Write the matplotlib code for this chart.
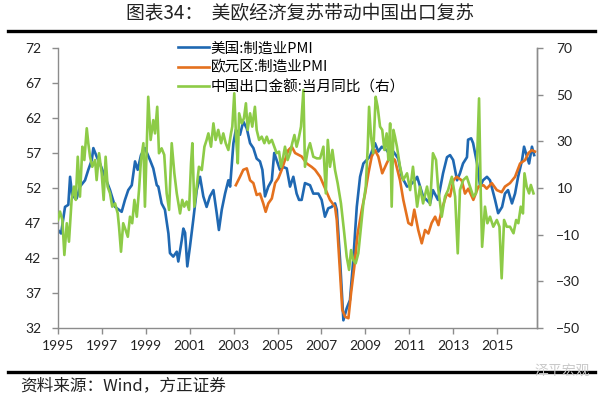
import matplotlib
matplotlib.use("Agg")
import matplotlib.pyplot as plt
from matplotlib.lines import Line2D

plt.rcParams['font.family'] = ['Noto Sans CJK SC', 'DejaVu Sans']

# ---------------- data (time in decimal years as placed on the chart) ----------------
us_t = [1995.00, 1995.14, 1995.32, 1995.47, 1995.55, 1995.65, 1995.85, 1996.00, 1996.23, 1996.38,
        1996.54, 1996.61, 1996.76, 1996.91, 1997.14, 1997.37, 1997.60, 1997.90, 1998.05, 1998.20,
        1998.36, 1998.51, 1998.63, 1998.78, 1998.96, 1999.19, 1999.34, 1999.50, 1999.57, 1999.72,
        1999.87, 2000.03, 2000.10, 2000.25, 2000.41, 2000.48, 2000.64, 2000.71, 2000.79, 2000.89,
        2001.01, 2001.16, 2001.32, 2001.47, 2001.62, 2001.77, 2001.92, 2002.08, 2002.23, 2002.33,
        2002.46, 2002.61, 2002.76, 2002.84, 2002.99, 2003.10, 2003.29, 2003.44, 2003.60, 2003.75,
        2003.90, 2004.05, 2004.20, 2004.31, 2004.43, 2004.58, 2004.74, 2004.85, 2004.96, 2005.11,
        2005.26, 2005.42, 2005.57, 2005.72, 2005.87, 2005.98, 2006.10, 2006.25, 2006.48, 2006.63,
        2006.86, 2007.01, 2007.16, 2007.31, 2007.47, 2007.62, 2007.70, 2007.85, 2008.00, 2008.15,
        2008.30, 2008.45, 2008.61, 2008.76, 2008.91, 2009.06, 2009.21, 2009.44, 2009.59, 2009.75,
        2009.97, 2010.13, 2010.28, 2010.50, 2010.66, 2010.90, 2011.04, 2011.26, 2011.36, 2011.63,
        2011.95, 2012.08, 2012.31, 2012.54, 2012.72, 2012.86, 2013.00, 2013.18, 2013.31, 2013.45,
        2013.63, 2013.68, 2013.82, 2013.91, 2014.09, 2014.23, 2014.36, 2014.54, 2014.68, 2014.91,
        2015.05, 2015.23, 2015.36, 2015.50, 2015.68, 2015.82, 2015.96, 2016.14, 2016.23, 2016.37,
        2016.46, 2016.59, 2016.69]
us_pmi = [46.0, 45.5, 49.3, 49.6, 53.6, 50.8, 50.5, 52.2, 53.1, 54.6,
          56.0, 57.7, 56.5, 55.5, 53.6, 51.7, 49.3, 48.6, 50.3, 51.7,
          52.4, 55.8, 54.6, 56.7, 57.7, 56.0, 54.8, 52.4, 52.2, 49.8,
          48.9, 45.5, 42.7, 42.2, 42.9, 41.5, 44.6, 46.2, 45.6, 40.8,
          43.6, 47.4, 51.7, 53.6, 50.8, 49.3, 50.8, 51.7, 48.4, 46.0,
          48.9, 51.2, 53.1, 52.2, 58.4, 60.3, 59.6, 61.5, 60.5, 58.4,
          57.7, 56.2, 55.8, 54.6, 50.8, 52.2, 53.1, 57.0, 56.0, 54.6,
          55.0, 54.8, 52.2, 53.6, 51.2, 50.3, 50.3, 52.7, 52.4, 51.2,
          51.2, 50.3, 47.9, 49.1, 49.3, 49.8, 48.9, 41.7, 33.1, 34.8,
          36.0, 41.7, 49.3, 53.6, 55.5, 56.0, 56.5, 58.4, 57.2, 57.9,
          57.4, 56.7, 57.2, 56.2, 53.6, 52.2, 52.4, 53.1, 53.6, 50.8,
          49.8, 51.7, 50.3, 54.1, 56.4, 56.7, 56.0, 53.1, 54.1, 55.5,
          56.4, 58.9, 59.1, 58.4, 55.5, 52.2, 53.1, 53.6, 53.1, 50.3,
          48.4, 49.3, 51.2, 51.7, 49.8, 51.2, 53.6, 56.0, 57.9, 56.4,
          55.5, 57.9, 56.7]

eu_t = [2003.10, 2003.29, 2003.44, 2003.60, 2003.75, 2003.90, 2004.05, 2004.20, 2004.35, 2004.46,
        2004.58, 2004.74, 2004.89, 2005.04, 2005.19, 2005.34, 2005.49, 2005.65, 2005.80, 2006.10,
        2006.33, 2006.56, 2006.71, 2006.94, 2007.16, 2007.39, 2007.62, 2007.70, 2007.85, 2007.95,
        2008.08, 2008.23, 2008.35, 2008.50, 2008.65, 2008.84, 2008.99, 2009.14, 2009.29, 2009.44,
        2009.59, 2009.77, 2009.97, 2010.13, 2010.35, 2010.58, 2010.73, 2010.96, 2011.11, 2011.23,
        2011.41, 2011.57, 2011.72, 2011.87, 2012.02, 2012.18, 2012.33, 2012.48, 2012.71, 2012.86,
        2013.01, 2013.16, 2013.39, 2013.54, 2013.69, 2013.92, 2014.15, 2014.38, 2014.53, 2014.76,
        2014.99, 2015.21, 2015.36, 2015.59, 2015.82, 2016.05, 2016.28, 2016.43, 2016.58, 2016.73]
eu_pmi = [52.4, 53.6, 54.6, 54.8, 53.1, 52.7, 51.0, 51.2, 49.8, 48.6,
          49.8, 50.5, 52.7, 53.4, 54.6, 56.0, 57.4, 57.9, 57.0, 56.5,
          55.5, 55.0, 54.6, 53.6, 52.0, 50.3, 49.3, 47.4, 39.8, 34.6,
          33.6, 33.4, 37.0, 40.8, 45.5, 48.9, 51.2, 54.1, 56.5, 57.4,
          56.5, 54.1, 55.5, 56.5, 56.0, 53.1, 50.3, 47.0, 46.7, 48.9,
          46.0, 44.1, 46.0, 45.5, 47.0, 47.9, 46.7, 48.9, 51.2, 50.8,
          53.1, 53.6, 53.1, 51.2, 51.9, 50.3, 52.2, 52.4, 51.9, 52.7,
          51.7, 51.4, 52.2, 52.7, 53.6, 55.5, 56.0, 57.0, 57.4, 57.2]

cn_t = [1995.00, 1995.09, 1995.20, 1995.29, 1995.40, 1995.50, 1995.62, 1995.73, 1995.81, 1995.90,
        1996.00, 1996.11, 1996.20, 1996.31, 1996.38, 1996.46, 1996.56, 1996.69, 1996.76, 1996.87,
        1996.99, 1997.08, 1997.17, 1997.26, 1997.37, 1997.47, 1997.60, 1997.72, 1997.78, 1997.87,
        1997.97, 1998.08, 1998.18, 1998.28, 1998.38, 1998.48, 1998.59, 1998.69, 1998.78, 1998.89,
        1998.96, 1999.11, 1999.22, 1999.34, 1999.42, 1999.52, 1999.60, 1999.72, 1999.84, 1999.95,
        2000.06, 2000.18, 2000.30, 2000.41, 2000.51, 2000.56, 2000.66, 2000.75, 2000.86, 2000.97,
        2001.06, 2001.12, 2001.21, 2001.32, 2001.42, 2001.55, 2001.67, 2001.77, 2001.85, 2001.97,
        2002.08, 2002.18, 2002.30, 2002.43, 2002.53, 2002.64, 2002.76, 2002.88, 2002.94, 2003.03,
        2003.11, 2003.19, 2003.25, 2003.37, 2003.47, 2003.56, 2003.64, 2003.75, 2003.85, 2003.97,
        2004.05, 2004.16, 2004.28, 2004.40, 2004.51, 2004.61, 2004.74, 2004.85, 2004.96, 2005.07,
        2005.16, 2005.26, 2005.34, 2005.46, 2005.57, 2005.67, 2005.77, 2005.87, 2005.95, 2006.07,
        2006.18, 2006.25, 2006.38, 2006.48, 2006.63, 2006.79, 2006.94, 2007.09, 2007.20, 2007.29,
        2007.39, 2007.50, 2007.62, 2007.74, 2007.89, 2008.04, 2008.15, 2008.26, 2008.35, 2008.45,
        2008.56, 2008.68, 2008.80, 2008.91, 2009.02, 2009.11, 2009.17, 2009.26, 2009.36, 2009.47,
        2009.56, 2009.67, 2009.77, 2009.87, 2009.97, 2010.05, 2010.13, 2010.20, 2010.28, 2010.35,
        2010.44, 2010.58, 2010.72, 2010.90, 2011.04, 2011.17, 2011.36, 2011.49, 2011.63, 2011.81,
        2011.95, 2012.08, 2012.22, 2012.31, 2012.48, 2012.63, 2012.77, 2012.94, 2013.09, 2013.21,
        2013.31, 2013.46, 2013.62, 2013.77, 2013.92, 2014.04, 2014.18, 2014.26, 2014.32, 2014.45,
        2014.56, 2014.68, 2014.83, 2014.99, 2015.11, 2015.21, 2015.32, 2015.44, 2015.59, 2015.75,
        2015.87, 2015.97, 2016.08, 2016.18, 2016.25, 2016.35, 2016.46, 2016.54, 2016.66]
cn_export_yoy = [-3.7, -0.1, -3.7, -18.7, -5.1, -13.0, 4.9, 10.6, 4.9, 23.4,
                 6.3, 27.7, 22.0, 35.6, 29.2, 23.4, 19.1, 22.0, 13.4, 24.9,
                 16.3, 4.9, 23.4, 10.6, 7.7, 2.0, 3.4, -0.9, -6.6, -17.3,
                 -5.1, -8.0, -10.9, -2.3, -5.1, 4.9, -2.3, 9.1, 22.0, 29.2,
                 2.0, 49.1, 30.6, 39.1, 33.4, 44.8, 24.9, 27.0, 24.2, 7.7,
                 0.6, 29.2, 16.3, 7.7, 2.0, -0.9, 4.9, 2.0, 4.2, 0.6,
                 20.6, 29.2, 2.0, 10.6, 19.1, 17.7, 27.7, 30.6, 33.4, 27.7,
                 37.7, 30.6, 34.9, 29.2, 33.4, 29.2, 26.3, 33.4, 36.3, 50.6,
                 32.0, 20.6, 42.0, 37.7, 39.9, 46.3, 34.9, 42.0, 36.3, 44.8,
                 34.9, 30.6, 32.0, 29.2, 32.0, 29.2, 30.6, 27.7, 24.9, 25.6,
                 19.1, 23.4, 27.7, 22.0, 24.9, 29.2, 32.7, 27.7, 30.6, 36.3,
                 52.0, 19.1, 26.3, 29.2, 23.4, 22.7, 22.7, 27.7, 7.7, 30.6,
                 19.1, 26.3, 17.7, 12.0, 3.4, -9.4, -19.4, -25.1, -16.6, -20.9,
                 -22.3, -18.0, -6.6, 3.4, 10.6, 27.7, 44.8, 32.0, 24.9, 49.1,
                 44.8, 36.3, 34.9, 26.3, 33.4, 22.0, 37.7, 2.0, 34.9, 32.0,
                 27.7, 19.1, 13.4, 16.3, 9.1, 19.1, 2.0, 10.6, 3.4, 10.6,
                 2.7, 24.9, 22.0, 10.6, -2.3, 6.3, 9.1, 14.8, 6.3, -18.0,
                 9.1, 13.4, 14.8, 10.6, 6.3, 7.7, 48.4, 6.3, -15.2, 2.0,
                 -5.1, -2.3, -6.6, -3.7, -6.6, -28.7, -3.7, -6.6, -6.6, -9.4,
                 -3.7, -5.1, 2.0, -0.9, 16.3, 10.6, 7.7, 11.3, 7.7]

labels = ['美国:制造业PMI', '欧元区:制造业PMI', '中国出口金额:当月同比（右）']
year_ticks = list(range(1995, 2016, 2))
left_ticks = list(range(32, 73, 5))
right_ticks = list(range(-50, 71, 20))

title = '图表34：  美欧经济复苏带动中国出口复苏'
source = '资料来源：Wind，方正证券'

# ---------------- styling ----------------
c_us = '#1F68B2'
c_eu = '#E4711E'
c_cn = '#8DCB47'
axis_c = '#8C8C8C'
lw = 1.9

W, H = 600, 399
fig = plt.figure(figsize=(W / 100, H / 100), dpi=100)
ax = fig.add_axes([58 / W, 1 - 328 / H, (537 - 58) / W, (328 - 48) / H])
ax2 = ax.twinx()

l1, = ax.plot(us_t, us_pmi, color=c_us, lw=lw, solid_joinstyle='round')
l2, = ax.plot(eu_t, eu_pmi, color=c_eu, lw=lw, solid_joinstyle='round')
l3, = ax2.plot(cn_t, cn_export_yoy, color=c_cn, lw=lw, solid_joinstyle='round')

ax.set_xlim(1995, 2016.82)
ax.set_ylim(32, 72)
ax2.set_ylim(-50, 70)
ax.set_xticks(year_ticks)
ax.set_xticklabels([str(y) for y in year_ticks])
ax.set_yticks(left_ticks)
ax2.set_yticks(right_ticks)

for a in (ax, ax2):
    a.spines['top'].set_visible(False)
    for s in ('left', 'right', 'bottom'):
        a.spines[s].set_color(axis_c)
        a.spines[s].set_linewidth(1.0)
    a.tick_params(direction='out', length=4, width=1.0, color=axis_c, labelcolor='#222222', labelsize=10)
    for lab in a.get_xticklabels() + a.get_yticklabels():
        lab.set_fontfamily(['Lato', 'DejaVu Sans'])
ax.tick_params(axis='x', pad=5)
ax.tick_params(axis='y', pad=8)
ax2.tick_params(axis='y', pad=10)
ax2.spines['left'].set_visible(False)
ax2.spines['bottom'].set_visible(False)

leg = fig.legend([l1, l2, l3], labels, loc='upper left',
                 bbox_to_anchor=(178 / W, 1 - 41.5 / H), frameon=False,
                 handlelength=2.1, handletextpad=0.15, labelspacing=0.36,
                 borderpad=0.0, borderaxespad=0.0,
                 prop=dict(family=['Noto Sans CJK SC', 'DejaVu Sans'], size=10.5))

# title and rules
fig.text(0.5, 1 - 14 / H, title, ha='center', va='center', fontsize=13.5,
         color='#222222')
fig.add_artist(Line2D([8 / W, 595 / W], [1 - 31 / H, 1 - 31 / H], color='black', lw=2.4))
fig.add_artist(Line2D([8 / W, 595 / W], [1 - 372 / H, 1 - 372 / H], color='black', lw=2.4))
fig.text(20 / W, 1 - 386 / H, source, ha='left', va='center', fontsize=12,
         style='italic', color='#222222')
fig.text(590 / W, 1 - 371 / H, '泽平宏观', ha='right', va='center', fontsize=10,
         color='#C9C9C9', zorder=5)

fig.savefig('out.png', dpi=100)
